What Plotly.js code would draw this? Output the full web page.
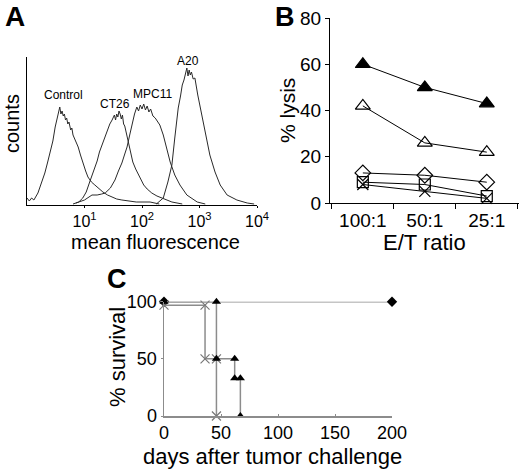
<!DOCTYPE html>
<html>
<head>
<meta charset="utf-8">
<script src="https://cdn.plot.ly/plotly-3.0.1.min.js"></script>
<style>html,body{margin:0;padding:0;background:#fff}#chart{width:520px;height:473px}</style>
</head>
<body>
<div id="chart"></div>
<script>
// ---------- Panel A: flow cytometry histograms (x = log10 fluorescence, y = counts) ----------
const controlLog   = [0.00,0.04,0.08,0.12,0.19,0.25,0.31,0.36,0.40,0.45,0.49,0.53,0.57,0.59,0.61,0.63,0.65,0.67,0.69,0.71,0.73,0.76,0.78,0.80,0.84,0.89,0.93,0.97,1.02,1.06,1.12,1.18,1.25,1.32,1.40,1.48,1.56,1.65,1.75,1.90,2.14,2.30];
const controlCount = [6,3,6,4,11,20,31,42,51,63,77,88,97,90,93,88,90,84,86,80,82,74,76,69,64,57,49,41,33,27,22,19,15,12,9,7,5,4,3,2,2,0];
const ct26Log      = [0.80,0.90,0.97,1.03,1.09,1.16,1.22,1.26,1.31,1.35,1.40,1.44,1.48,1.50,1.52,1.54,1.56,1.58,1.60,1.62,1.64,1.66,1.68,1.70,1.73,1.77,1.80,1.84,1.89,1.93,1.97,2.03,2.09,2.17,2.26,2.38,2.52,2.70];
const ct26Count    = [0,2,6,12,22,33,43,52,60,67,74,80,84,86,89,84,90,87,93,90,85,89,80,78,70,60,51,42,35,30,25,19,15,11,8,5,2,0];
const mpc11Log     = [0.85,1.00,1.13,1.22,1.30,1.36,1.45,1.53,1.59,1.65,1.70,1.74,1.79,1.83,1.87,1.91,1.94,1.97,2.00,2.03,2.06,2.09,2.12,2.15,2.19,2.23,2.27,2.31,2.37,2.43,2.49,2.57,2.66,2.78,2.96,3.10];
const mpc11Count   = [1,4,9,9,10,11,16,24,33,41,50,57,70,81,90,97,93,99,95,100,94,98,92,95,88,86,82,79,69,56,42,29,19,9,2,0];
const a20Log       = [2.25,2.37,2.45,2.52,2.57,2.60,2.63,2.67,2.70,2.73,2.76,2.78,2.80,2.82,2.84,2.86,2.89,2.92,2.97,3.04,3.10,3.18,3.27,3.36,3.48,3.65,3.83,3.95];
const a20Count     = [0,6,22,39,66,80,96,108,119,124,133,136,128,134,129,132,125,126,109,89,69,49,32,19,9,4,1,0];
const histLabels   = ['Control','CT26','MPC11','A20'];
const fluorTickVals = [10,100,1000,10000];
const fluorTickText = ['10<sup>1</sup>','10<sup>2</sup>','10<sup>3</sup>','10<sup>4</sup>'];

// ---------- Panel B: % lysis vs E/T ratio ----------
const etRatios       = ['100:1','50:1','25:1'];
const lysisFilledTri = [60,50,43];
const lysisOpenTri   = [42,26,22];
const lysisDiamond   = [13,12,9];
const lysisSquare    = [9,8,3];
const lysisX         = [8,5,2];

// ---------- Panel C: survival ----------
const survDiamondDays = [0,200];
const survDiamondPct  = [100,100];
const survXDays       = [0,36,36,46,46];
const survXPct        = [97,97,50,50,0];
const survTriDays     = [0,46,46,62,62,67,67];
const survTriPct      = [100,100,50,50,33,33,0];

const W = 520, H = 473;
const px = x => x / W;
const py = y => 1 - y / H;
const FONT = 'Liberation Sans, Arial, Helvetica, sans-serif';
const pow10 = arr => arr.map(v => Math.pow(10, v));

const histLine = {color:'#2a2a2a', width:1};
const traces = [
  {x: pow10(controlLog), y: controlCount, xaxis:'x', yaxis:'y', mode:'lines', line:histLine, name:histLabels[0]},
  {x: pow10(ct26Log), y: ct26Count, xaxis:'x', yaxis:'y', mode:'lines', line:histLine, name:histLabels[1]},
  {x: pow10(mpc11Log), y: mpc11Count, xaxis:'x', yaxis:'y', mode:'lines', line:histLine, name:histLabels[2]},
  {x: pow10(a20Log), y: a20Count, xaxis:'x', yaxis:'y', mode:'lines', line:histLine, name:histLabels[3]},
];

const bLine = {color:'#000', width:1};
function bTrace(vals, symbol, size, fill) {
  return {x: etRatios, y: vals, xaxis:'x2', yaxis:'y2', mode:'lines+markers', cliponaxis:false,
    line: bLine, marker:{symbol: symbol, size: size, color: fill, line:{color:'#000', width:1.2}}};
}
traces.push(
  bTrace(lysisX, 'x-thin-open', 11, '#000'),
  bTrace(lysisSquare, 'square-open', 11, '#000'),
  bTrace(lysisDiamond, 'diamond-open', 12, '#000'),
  bTrace(lysisOpenTri, 'triangle-up-open', 13, '#000'),
  bTrace(lysisFilledTri, 'triangle-up', 13, '#000')
);

const cLine = {color:'#8c8c8c', width:1.5};
traces.push(
  {x: survDiamondDays, y: survDiamondPct, xaxis:'x3', yaxis:'y3', mode:'lines+markers', cliponaxis:false,
   line:cLine, marker:{symbol:'diamond', size:8, color:'#000'}},
  {x: survXDays, y: survXPct, xaxis:'x3', yaxis:'y3', mode:'lines+markers', cliponaxis:false,
   line:cLine, marker:{symbol:'x-thin-open', size:9, color:'#777', line:{color:'#777', width:1.2}}},
  {x: survTriDays, y: survTriPct, xaxis:'x3', yaxis:'y3', mode:'lines+markers', cliponaxis:false,
   line:cLine, marker:{symbol:'triangle-up', size:8, color:'#000'}}
);

function ann(text, x, y, size, opts) {
  return Object.assign({text: text, x: px(x), y: py(y), xref:'paper', yref:'paper', showarrow:false,
    xanchor:'center', yanchor:'middle', font:{family:FONT, size:size, color:'#000'}}, opts || {});
}

const layout = {
  width: W, height: H,
  margin: {l:0, r:0, t:0, b:0},
  paper_bgcolor:'#fff', plot_bgcolor:'rgba(0,0,0,0)',
  showlegend:false,
  font:{family:FONT, color:'#000'},
  xaxis: {domain:[px(27), px(257)], anchor:'y', type:'log', range:[0,4],
    tickvals: fluorTickVals, ticktext: fluorTickText, ticks:'outside', ticklen:2, tickcolor:'#000',
    showline:true, linecolor:'#000', linewidth:1, showgrid:false, zeroline:false,
    tickfont:{family:FONT, size:16, color:'#000'}},
  yaxis: {domain:[py(205), py(57)], anchor:'x', range:[-1,147], showline:true, linecolor:'#000', linewidth:1,
    showticklabels:false, ticks:'', showgrid:false, zeroline:false},
  xaxis2: {domain:[px(330), px(519)], anchor:'y2', type:'category', categoryorder:'array', categoryarray: etRatios,
    range:[-0.53, 2.52], tickson:'boundaries', ticks:'outside', ticklen:5, tickcolor:'#000',
    showline:true, linecolor:'#000', linewidth:1, showgrid:false, zeroline:false,
    tickfont:{family:FONT, size:19, color:'#000'}},
  yaxis2: {domain:[py(203), py(18)], anchor:'x2', range:[0,80], dtick:20, ticks:'outside', ticklen:4, tickcolor:'#000',
    showline:true, linecolor:'#000', linewidth:1, showgrid:false, zeroline:false,
    tickfont:{family:FONT, size:19, color:'#000'}},
  xaxis3: {domain:[px(164), px(392)], anchor:'y3', range:[0,200], tickvals:[0,50,100,150,200], ticks:'inside', ticklen:2,
    tickcolor:'#8c8c8c', showline:true, linecolor:'#8c8c8c', linewidth:1.5, showgrid:false, zeroline:false,
    tickfont:{family:FONT, size:18, color:'#000'}},
  yaxis3: {domain:[py(416), py(301.7)], anchor:'x3', range:[0,100], tickvals:[0,50,100], ticks:'outside', ticklen:2,
    tickcolor:'#8c8c8c', showline:true, linecolor:'#8c8c8c', linewidth:1.5, showgrid:false, zeroline:false,
    tickfont:{family:FONT, size:18, color:'#000'}},
  annotations: [
    ann('<b>A</b>', 15, 16, 28),
    ann('<b>B</b>', 285, 17, 27),
    ann('<b>C</b>', 117, 279, 27),
    ann(histLabels[0], 63, 95, 12),
    ann(histLabels[1], 115, 104, 12),
    ann(histLabels[2], 152, 94, 12),
    ann(histLabels[3], 188, 61, 12),
    ann('counts', 12, 124, 20, {textangle:-90}),
    ann('mean fluorescence', 155, 242, 20),
    ann('% lysis', 287, 111, 21, {textangle:-90}),
    ann('E/T ratio', 424, 242, 22),
    ann('% survival', 117, 357, 22, {textangle:-90}),
    ann('days after tumor challenge', 272, 456, 22)
  ]
};

Plotly.newPlot('chart', traces, layout, {staticPlot:true, displayModeBar:false});
</script>
</body>
</html>
